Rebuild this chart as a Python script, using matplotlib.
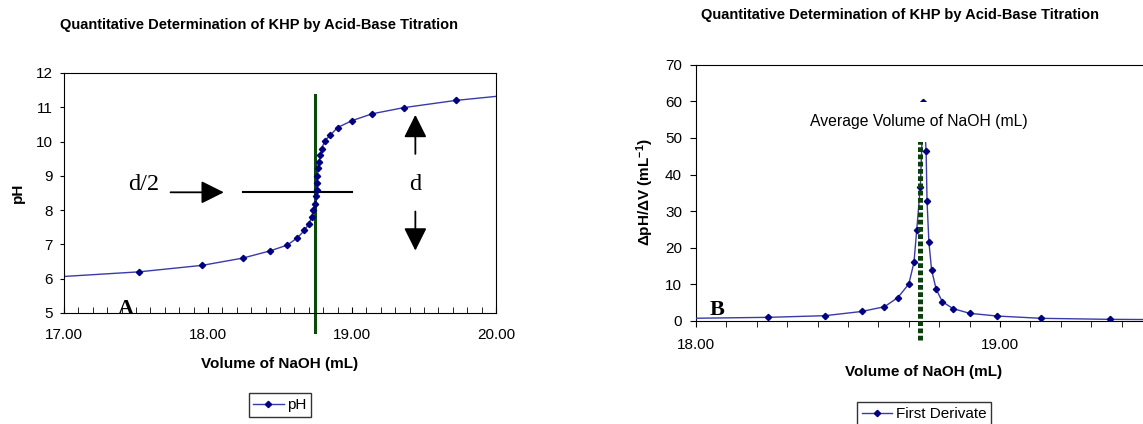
import matplotlib
matplotlib.use("Agg")
import matplotlib.pyplot as plt
from matplotlib.ticker import MultipleLocator, FormatStrFormatter

# ---- data: titration curve (panel A) ----
vol_ph = [16.90, 17.52, 17.96, 18.24, 18.43, 18.55, 18.62, 18.67, 18.70, 18.72, 18.73,
          18.74, 18.75, 18.755, 18.758, 18.76, 18.765, 18.77, 18.78, 18.79, 18.81,
          18.85, 18.90, 19.00, 19.14, 19.36, 19.72, 20.10]
ph = [6.04, 6.20, 6.39, 6.60, 6.81, 6.98, 7.19, 7.41, 7.60, 7.79, 8.00,
      8.19, 8.42, 8.60, 8.79, 9.00, 9.22, 9.39, 9.60, 9.79, 10.02,
      10.19, 10.41, 10.61, 10.81, 10.99, 11.20, 11.36]

# ---- data: first derivative (panel B) ----
vol_d = [17.95, 18.238, 18.424, 18.545, 18.62, 18.664, 18.70, 18.717, 18.726, 18.738,
         18.748, 18.757, 18.76, 18.766, 18.775, 18.79, 18.81, 18.845, 18.90, 18.99,
         19.136, 19.362, 19.60]
deriv = [0.7, 1.0, 1.45, 2.6, 3.9, 6.4, 10.1, 16.0, 24.8, 36.7,
         59.9, 46.3, 32.7, 21.7, 13.9, 8.7, 5.3, 3.4, 2.1, 1.36,
         0.73, 0.45, 0.35]

endpoint = 18.745
endpoint_b = 18.738
half_ph = 8.52

title = "Quantitative Determination of KHP by Acid-Base Titration"
xlabel = "Volume of NaOH (mL)"

plt.rcParams['font.family'] = ['Liberation Sans', 'DejaVu Sans']
plt.rcParams['mathtext.fontset'] = 'custom'
plt.rcParams['mathtext.rm'] = 'Liberation Sans'
plt.rcParams['mathtext.bf'] = 'Liberation Sans:bold'

fig = plt.figure(figsize=(11.43, 4.24), dpi=100)
line_c = '#3a3aa8'
mark_c = '#000080'
TICK_FS = 11
LAB_FS = 11

# ================= Panel A =================
axA = fig.add_axes([64/1143, 1-313/424, 432/1143, 240/424])
axA.plot(vol_ph, ph, color=line_c, lw=1.0, marker='D', ms=3.2,
         mfc=mark_c, mec=mark_c, label='pH')
axA.set_xlim(17, 20)
axA.set_ylim(5, 12)
axA.xaxis.set_major_locator(MultipleLocator(1.0))
axA.xaxis.set_minor_locator(MultipleLocator(0.1))
axA.xaxis.set_major_formatter(FormatStrFormatter('%.2f'))
axA.yaxis.set_major_locator(MultipleLocator(1))
axA.tick_params(axis='x', which='both', direction='in', length=4, labelsize=TICK_FS, pad=11)
axA.tick_params(axis='y', which='both', direction='out', length=3, labelsize=TICK_FS, pad=5)
axA.set_xlabel(xlabel, fontsize=LAB_FS, fontweight='bold')
axA.xaxis.set_label_coords(0.5, (313-364)/240)
axA.xaxis.label.set_va('center')
axA.set_ylabel('pH', fontsize=LAB_FS, fontweight='bold')
axA.yaxis.set_label_coords((18-64)/432, 0.5)
axA.yaxis.label.set_va('center')
fig.text(259/1143, 1-25/424, title, ha='center', va='center', fontsize=10.5, fontweight='bold')

axA.plot([endpoint, endpoint], [4.45, 11.35], color='#0b4a0b', lw=2.2, clip_on=False, zorder=1)
axA.plot([18.24, 19.0], [half_ph, half_ph], color='black', lw=1.5, zorder=1)
arr = dict(arrowstyle='-|>,head_length=1.0,head_width=0.5', mutation_scale=14,
           color='black', lw=1.3, shrinkA=0, shrinkB=0)
axA.annotate('', xy=(18.11, half_ph), xytext=(17.74, half_ph), arrowprops=arr)
axA.annotate('', xy=(19.44, 10.78), xytext=(19.44, 9.64), arrowprops=arr)
axA.annotate('', xy=(19.44, 6.82), xytext=(19.44, 7.96), arrowprops=arr)
axA.text(17.55, 8.76, 'd/2', family='Liberation Serif', fontsize=17.5, ha='center', va='center')
axA.text(19.44, 8.76, 'd', family='Liberation Serif', fontsize=17.5, ha='center', va='center')
axA.text(17.43, 5.12, 'A', family='Liberation Serif', fontsize=16, fontweight='bold',
         ha='center', va='center')
axA.legend(loc='center', bbox_to_anchor=(280/1143, 1-405/424), bbox_transform=fig.transFigure,
           fontsize=11, frameon=True, fancybox=False, edgecolor='black', handlelength=2.0,
           borderpad=0.3, handletextpad=0.25)

# ================= Panel B =================
axB = fig.add_axes([696/1143, 1-321/424, 456/1143, 256.3/424])
axB.plot(vol_d, deriv, color=line_c, lw=1.0, marker='D', ms=3.2,
         mfc=mark_c, mec=mark_c, label='First Derivate', zorder=3)
axB.set_xlim(18, 19.5)
axB.set_ylim(0, 70)
axB.xaxis.set_major_locator(MultipleLocator(1.0))
axB.xaxis.set_minor_locator(MultipleLocator(0.1))
axB.xaxis.set_major_formatter(FormatStrFormatter('%.2f'))
axB.yaxis.set_major_locator(MultipleLocator(10))
axB.tick_params(axis='x', which='both', direction='out', length=4, labelsize=TICK_FS, pad=8)
axB.tick_params(axis='y', which='both', direction='out', length=4, labelsize=TICK_FS, pad=6)
axB.set_xlabel(xlabel, fontsize=LAB_FS, fontweight='bold')
axB.xaxis.set_label_coords(0.5, (321-372)/256.3)
axB.xaxis.label.set_va('center')
axB.set_ylabel('ΔpH/ΔV ($\\mathbf{mL^{-1}}$)', fontsize=LAB_FS, fontweight='bold')
axB.yaxis.set_label_coords((645-696)/456, 0.504)
axB.yaxis.label.set_va('center')
fig.text(900/1143, 1-15/424, title, ha='center', va='center', fontsize=10.5, fontweight='bold')

axB.plot([endpoint_b, endpoint_b], [-5.2, 49.3], color='#0b3f0b', lw=3.6,
         dashes=(0.95, 0.5), clip_on=False, zorder=4)
axB.text(18.733, 54.4, 'Average Volume of NaOH (mL)', fontsize=11.3, ha='center', va='center',
         zorder=5, bbox=dict(facecolor='white', edgecolor='none', pad=9))
axB.text(18.07, 3.1, 'B', family='Liberation Serif', fontsize=16, fontweight='bold',
         ha='center', va='center', zorder=5)
axB.legend(loc='center', bbox_to_anchor=(924/1143, 1-414/424), bbox_transform=fig.transFigure,
           fontsize=11, frameon=True, fancybox=False, edgecolor='black', handlelength=2.0,
           borderpad=0.3, handletextpad=0.25)

fig.savefig('out.png', dpi=100)
